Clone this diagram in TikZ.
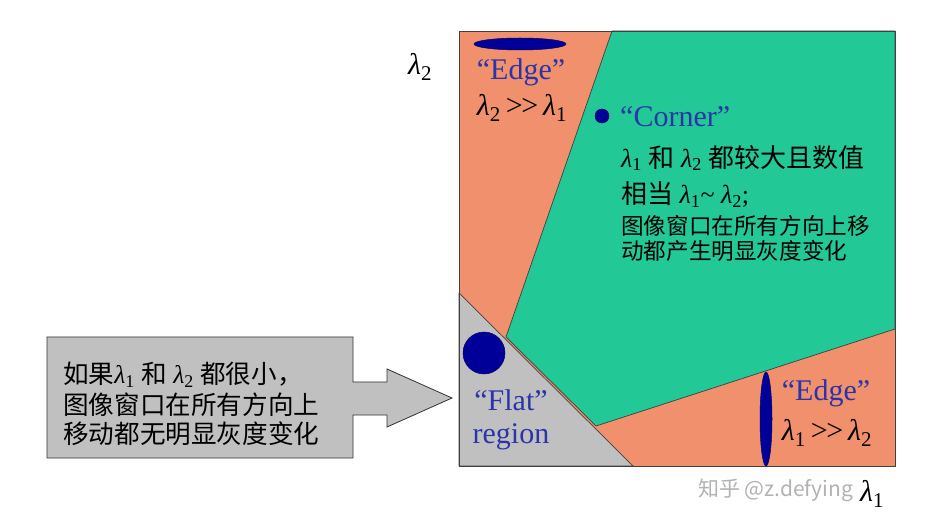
\documentclass[tikz,border=0pt]{standalone}
\usepackage{fontspec}
\setmainfont{Liberation Serif}
\newfontfamily\cjk{Noto Sans CJK SC}
\newfontfamily\lamfont{Liberation Serif Italic}
\definecolor{orangeR}{HTML}{F0906C}
\definecolor{greenR}{HTML}{22C896}
\definecolor{grayR}{HTML}{C0C0C0}
\definecolor{navyR}{HTML}{000099}
\definecolor{blueT}{HTML}{2B35A8}
\definecolor{edgeL}{HTML}{404040}
\newcommand\lam[1]{{\lamfont λ}\textsubscript{#1}}
\newcommand\zh[1]{{\cjk #1}}
\newcommand\mygg{\,\textgreater\kern-0.05em\textgreater\,}
\begin{document}
\begin{tikzpicture}[x=1pt,y=-1pt,
  lbl/.style={inner sep=0pt, font=\fontsize{30}{32}\selectfont},
  bluet/.style={lbl, text=blueT},
  cnA/.style={inner sep=0pt, anchor=west, font=\fontsize{26}{28}\selectfont},
  cnB/.style={inner sep=0pt, anchor=west, font=\fontsize{22.6}{24}\cjk},
  boxt/.style={inner sep=0pt, anchor=west, font=\fontsize{25.6}{27}\selectfont},
  region/.style={draw=edgeL, line width=0.7pt, line join=round},
  blob/.style={fill=navyR, draw=navyR!70!black, line width=0.5pt}]
\useasboundingbox (0,0) rectangle (945,526);
\fill[white] (0,0) rectangle (945,526);
% regions
\fill[orangeR] (459,31) rectangle (895,466);
\filldraw[fill=grayR, region] (459,293) -- (633,466) -- (459,466) -- cycle;
\filldraw[fill=greenR, region] (612,31) -- (895,31) -- (895,329) -- (596,426) -- (506,337) -- cycle;
\draw[edgeL, line width=0.8pt] (459,31) rectangle (895,466);
% blobs
\fill[blob] (520,44) ellipse [x radius=46, y radius=6];
\fill[blob] (602,116) circle [radius=7];
\fill[blob] (484,353) circle [radius=21];
\fill[blob] (766,419) ellipse [x radius=6, y radius=47];
% axis labels
\node[lbl] (l2) at (420,67) {\lam{2}};
\node[lbl] (l1) at (872,494) {\lam{1}};
% top edge
\node[bluet] (e1) at (521,72) {“Edge”};
\node[lbl] (e1r) at (522,108) {\lam{2}\mygg\lam{1}};
% corner
\node[bluet, anchor=west] (c0) at (620,117) {“Corner”};
\node[cnA] (c1) at (621,158) {\lam{1} \zh{和} \lam{2} \zh{都较大且数值}};
\node[cnA] (c2) at (621,195) {\zh{相当} \lam{1}\textasciitilde\ \lam{2};};
\node[cnB] (c3) at (621,226) {图像窗口在所有方向上移};
\node[cnB] (c4) at (621,251) {动都产生明显灰度变化};
% flat
\node[bluet] (f1) at (511,400) {“Flat”};
\node[bluet] (f2) at (511,437) {region};
% bottom edge
\node[bluet] (e2) at (826,393) {“Edge”};
\node[lbl] (e2r) at (827,433) {\lam{1}\mygg\lam{2}};
% callout arrow box
\filldraw[fill=grayR, draw=black!80, line width=0.8pt, line join=miter]
  (47,337) -- (353,337) -- (353,382) -- (387,382) -- (387,369) -- (452,398)
  -- (387,427) -- (387,415) -- (353,415) -- (353,458) -- (47,458) -- cycle;
\node[boxt] (b1) at (63,375) {\zh{如果}\lam{1} \zh{和} \lam{2} \zh{都很小，}};
\node[boxt, font=\fontsize{25.6}{27}\cjk] (b2) at (63,405) {图像窗口在所有方向上};
\node[boxt, font=\fontsize{25.6}{27}\cjk] (b3) at (63,434) {移动都无明显灰度变化};
% watermark
\node[inner sep=0pt, anchor=west, text=black!30, font=\fontsize{21}{23}\cjk] (wm) at (698,490) {知乎 @z.defying};
\end{tikzpicture}
\end{document}
